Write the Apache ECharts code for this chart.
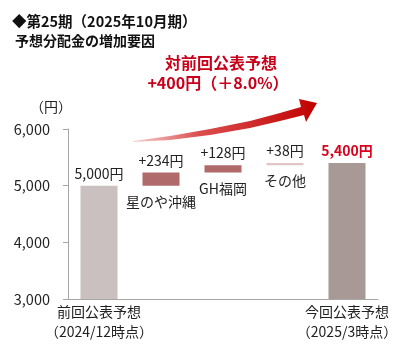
<!DOCTYPE html>
<html>
<head>
<meta charset="utf-8">
<script src="https://cdn.jsdelivr.net/npm/echarts@6/dist/echarts.min.js"></script>
<style>
  html, body { margin: 0; padding: 0; background: #fff; }
  #chart { width: 418px; height: 353px; }
</style>
</head>
<body>
<div id="chart"></div>
<script>
const categories = ["前回公表予想\n（2024/12時点）", "", "", "", "今回公表予想\n（2025/3時点）"];
const startValue = 5000;
const increments = [234, 128, 38];
const factorNames = ["星のや沖縄", "GH福岡", "その他"];
const endValue = 5400;
const yTicks = [3000, 4000, 5000, 6000];

const barColors = ["#c9c0bf", "#b06a6a", "#b06a6a", "#e2c6c6", "#a89896"];
const FONT = "Noto Sans CJK JP";

// waterfall: transparent base + visible part
const baseData = [0];
const valueData = [startValue];
let acc = startValue;
increments.forEach((v) => { baseData.push(acc); valueData.push(v); acc += v; });
baseData.push(0);
valueData.push(endValue);

function fmt(n) { return n.toLocaleString("en-US"); }

const valueItems = valueData.map((v, i) => {
  const last = i === valueData.length - 1;
  const first = i === 0;
  return {
    value: v,
    itemStyle: { color: barColors[i] },
    label: {
      formatter: first || last ? `${fmt(v)}円` : `+${v}円`,
      color: last ? "#d9001b" : "#222",
      fontWeight: last ? "bold" : "normal",
    },
  };
});

const baseItems = baseData.map((v, i) => ({
  value: v,
  label: i >= 1 && i <= increments.length
    ? { show: true, formatter: factorNames[i - 1] }
    : { show: false },
}));

// decorative arrow outline (not data)
const arrowPts = [
  [133, 141], [170, 136], [210, 129], [250, 121], [280, 113], [301, 107],
  [299, 99], [317, 103], [306, 122],
  [304, 115], [280, 121], [250, 128], [210, 135], [170, 140], [133, 142],
];

const chart = echarts.init(document.getElementById("chart"));
chart.setOption({
  animation: false,
  textStyle: { fontFamily: FONT },
  grid: { left: 68, right: 40, top: 129, bottom: 54 },
  xAxis: {
    type: "category",
    data: categories,
    axisLine: { lineStyle: { color: "#a6a6a6" } },
    axisTick: { show: false },
    axisLabel: { interval: 0, fontSize: 14, lineHeight: 20, margin: 3, color: "#222", fontFamily: FONT },
  },
  yAxis: {
    type: "value",
    min: yTicks[0],
    max: yTicks[yTicks.length - 1],
    interval: 1000,
    axisLine: { show: true, lineStyle: { color: "#a6a6a6" } },
    axisTick: { show: true, length: 5, lineStyle: { color: "#a6a6a6" } },
    splitLine: { show: false },
    axisLabel: { fontSize: 14.5, color: "#222", margin: 18, formatter: (v) => fmt(v), fontFamily: FONT },
  },
  series: [
    {
      type: "bar",
      stack: "wf",
      barWidth: 37,
      itemStyle: { color: "transparent" },
      label: { position: "insideTop", distance: 9, fontSize: 14, color: "#222", fontFamily: FONT },
      data: baseItems,
      silent: true,
    },
    {
      type: "bar",
      stack: "wf",
      barWidth: 37,
      label: { show: true, position: "top", distance: 5, fontSize: 14, fontFamily: FONT },
      data: valueItems,
    },
  ],
  graphic: [
    { type: "text", x: 12, y: 14, style: { text: "◆第25期（2025年10月期）", font: `bold 14.5px "${FONT}"`, fill: "#111" } },
    { type: "text", x: 15, y: 34, style: { text: "予想分配金の増加要因", font: `bold 14px "${FONT}"`, fill: "#111" } },
    { type: "text", x: 221, y: 55, style: { text: "対前回公表予想", font: `bold 16px "${FONT}"`, fill: "#c8001a", align: "center" } },
    { type: "text", x: 218, y: 75, style: { text: "+400円（＋8.0%）", font: `bold 16px "${FONT}"`, fill: "#c8001a", align: "center" } },
    { type: "text", x: 30, y: 100, style: { text: "（円）", font: `14px "${FONT}"`, fill: "#222" } },
    {
      type: "polygon",
      shape: { points: arrowPts },
      style: {
        fill: {
          type: "linear", x: 0, y: 0, x2: 1, y2: 0,
          colorStops: [
            { offset: 0, color: "#f6d6d6" },
            { offset: 0.35, color: "#dc5050" },
            { offset: 1, color: "#c00000" },
          ],
        },
      },
    },
  ],
});
</script>
</body>
</html>
